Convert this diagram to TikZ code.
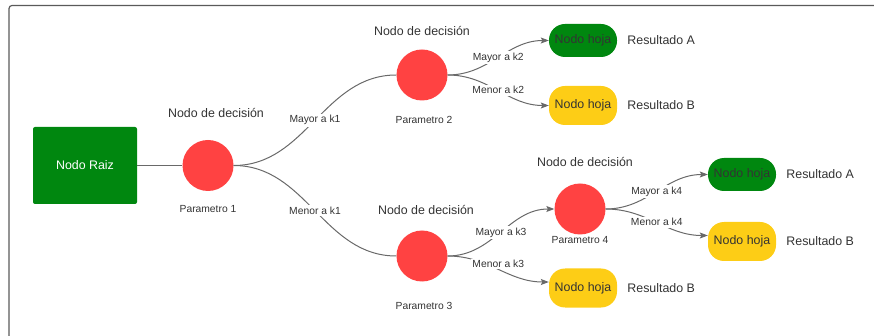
\documentclass[tikz,border=0pt]{standalone}
\usepackage{fontspec}
\setmainfont{Liberation Sans}
\usetikzlibrary{arrows.meta, positioning}
\definecolor{treegreen}{RGB}{0,135,15}
\definecolor{treered}{RGB}{255,66,66}
\definecolor{treeyellow}{RGB}{253,205,22}
\definecolor{treegray}{RGB}{105,105,105}
\definecolor{treeframe}{RGB}{90,90,90}
\definecolor{treetext}{RGB}{51,51,51}
\newcommand{\treebig}{\fontsize{12.4}{14}\selectfont}
\newcommand{\treesmall}{\fontsize{10.3}{12}\selectfont}
\tikzset{
  rootblock/.style={
    rectangle, rounded corners=2pt, fill=treegreen, inner sep=0pt,
    minimum width=104pt, minimum height=77pt, text=white, font=\treebig
  },
  decision/.style={
    circle, fill=treered, minimum size=51pt, inner sep=0pt
  },
  leafgreen/.style={
    rectangle, rounded corners=16pt, fill=treegreen, inner sep=0pt,
    minimum width=68pt, minimum height=33pt, text=treetext, font=\treebig
  },
  leafyellow/.style={
    rectangle, rounded corners=16pt, fill=treeyellow, inner sep=0pt,
    minimum width=68pt, minimum height=39pt, text=treetext, font=\treebig
  },
  titletext/.style={font=\treebig, text=treetext, inner sep=0pt},
  paramtext/.style={font=\treesmall, text=treetext, inner sep=0pt},
  resulttext/.style={font=\treebig, text=treetext, inner sep=0pt},
  edgelabel/.style={fill=white, font=\treesmall, text=treetext, inner sep=1.5pt},
  branchflow/.style={draw=treegray, line width=1pt},
  arrowflow/.style={-{Stealth[length=8pt, width=6pt, inset=1.5pt]}, draw=treegray, line width=1pt}
}

\begin{document}
\begin{tikzpicture}[x=1pt, y=-1pt]
\useasboundingbox (0,0) rectangle (874,336);

% frame of the canvas
\draw[treeframe, line width=1.2pt, rounded corners=3pt] (9,340) -- (9,5.5) -- (880,5.5);

\node[rootblock] (root) at (85,165.5) {Nodo Raiz};

\node[decision] (p1) at (208,165.5) {};
\node[decision] (p2) at (422,75) {};
\node[decision] (p3) at (422,256) {};
\node[decision] (p4) at (580,209) {};

\node[titletext, above=22pt of p1, xshift=8pt] (t1) {Nodo de decisión};
\node[titletext, above=13pt of p2] (t2) {Nodo de decisión};
\node[titletext, above=15pt of p3, xshift=4pt] (t3) {Nodo de decisión};
\node[titletext, above=16.5pt of p4, xshift=5pt] (t4) {Nodo de decisión};

\node[paramtext, below=14pt of p1] (c1) {Parametro 1};
\node[paramtext, below=15pt of p2, xshift=2pt] (c2) {Parametro 2};
\node[paramtext, below=20pt of p3, xshift=2pt] (c3) {Parametro 3};
\node[paramtext, below=2pt of p4] (c4) {Parametro 4};

\node[leafgreen] (leafa) at (583,40.5) {Nodo hoja};
\node[leafyellow] (leafb) at (583,105.5) {Nodo hoja};
\node[leafgreen] (leafc) at (742,174.5) {Nodo hoja};
\node[leafyellow] (leafd) at (742,241.5) {Nodo hoja};
\node[leafyellow] (leafe) at (583,288) {Nodo hoja};

\node[resulttext, right=10pt of leafa] (ra) {Resultado A};
\node[resulttext, right=10pt of leafb] (rb) {Resultado B};
\node[resulttext, right=10pt of leafc] (rc) {Resultado A};
\node[resulttext, right=10pt of leafd] (rd) {Resultado B};
\node[resulttext, right=10pt of leafe] (re) {Resultado B};

\draw[branchflow] (root) -- (p1);
\draw[branchflow] (p1.east) to[out=0, in=180] node[edgelabel] {Mayor a k1} (p2.west);
\draw[branchflow] (p1.east) to[out=0, in=180] node[edgelabel] {Menor a k1} (p3.west);

\draw[arrowflow] (p2.east) to[out=0, in=180] node[edgelabel] {Mayor a k2} (leafa.west);
\draw[arrowflow] (p2.east) to[out=0, in=180] node[edgelabel] {Menor a k2} (leafb.west);
\draw[arrowflow] (p3.east) to[out=0, in=180] node[edgelabel] {Mayor a k3} (p4.west);
\draw[arrowflow] (p3.east) to[out=0, in=180] node[edgelabel, yshift=5pt] {Menor a k3} ([yshift=6pt]leafe.west);
\draw[arrowflow] (p4.east) to[out=0, in=180] node[edgelabel] {Mayor a k4} (leafc.west);
\draw[arrowflow] (p4.east) to[out=0, in=180] node[edgelabel] {Menor a k4} ([yshift=6pt]leafd.west);

\end{tikzpicture}
\end{document}
